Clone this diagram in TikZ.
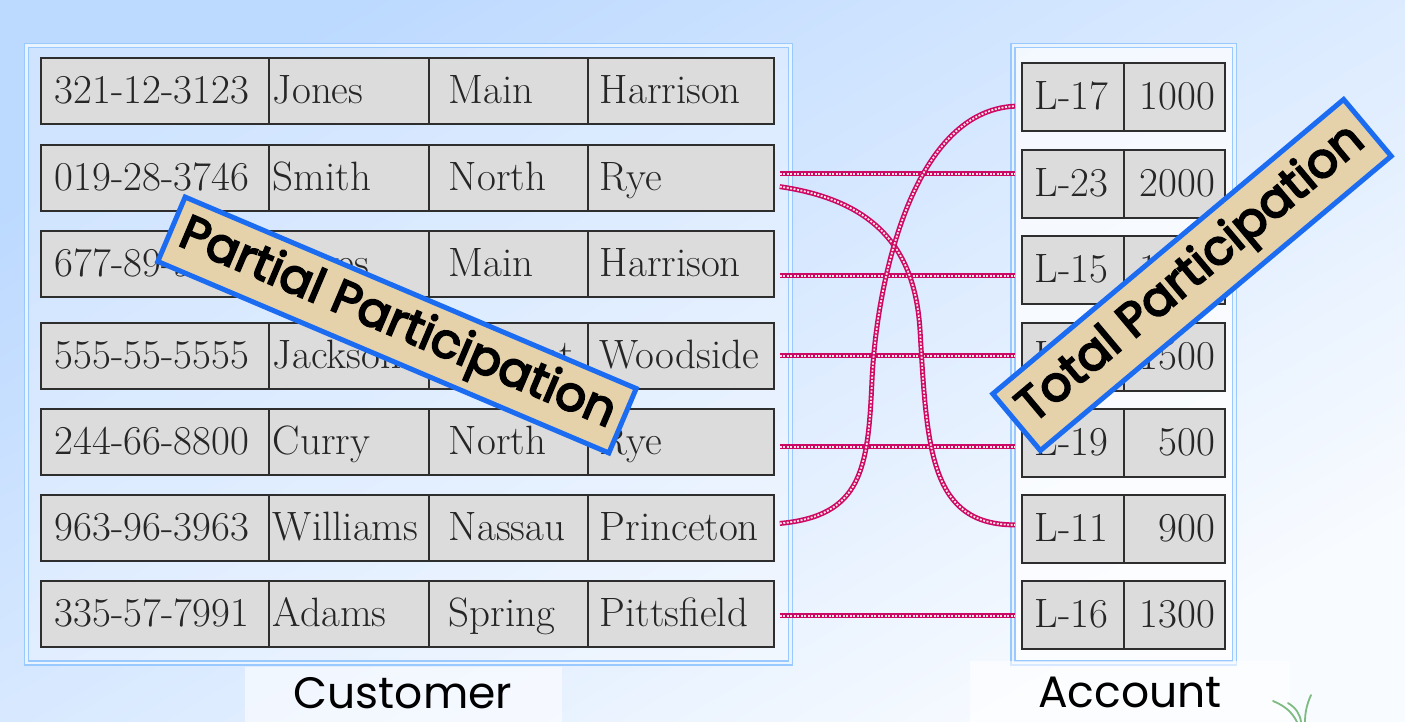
\documentclass[tikz,border=0pt]{standalone}
\usepackage{fontspec}
\usetikzlibrary{positioning}
\newfontfamily\comicfont{Poppins}
\newfontfamily\comicbold{Poppins}[FakeBold=4]
\newcommand\tabfont{\fontsize{41}{46}\selectfont}
\definecolor{bg-top}{HTML}{BCD9FF}
\definecolor{bg-bot}{HTML}{F8FBFF}
\definecolor{frame-blue}{HTML}{99C9FF}
\definecolor{frame-gap}{HTML}{EAF4FF}
\definecolor{cell-gray}{HTML}{DCDCDC}
\definecolor{cell-edge}{HTML}{2E2E2E}
\definecolor{link-red}{HTML}{CC0A66}
\definecolor{tag-tan}{HTML}{E6D2AA}
\definecolor{tag-blue}{HTML}{1C6CF2}
\definecolor{grass-green}{HTML}{7DBB80}

\begin{document}
\begin{tikzpicture}[x=1pt,y=-1pt,
  cell/.style={draw=cell-edge,fill=cell-gray,line width=1.8pt,anchor=north west,inner ysep=0pt,
    text height=30pt,text depth=4pt,font=\tabfont,text=black!85},
  frame/.style={draw=frame-blue,line width=1.5pt,double=frame-gap,double distance=2.5pt},
  link/.style={draw=link-red,line width=5pt,shorten <=5pt,shorten >=6pt,
    postaction={draw=pink!45,line width=1.8pt,dash pattern=on 2pt off 1.5pt,shorten <=5pt,shorten >=6pt}},
  banner/.style={draw=tag-blue,fill=tag-tan,line width=5pt,inner sep=0pt,
    font=\comicbold\fontsize{48}{52}\selectfont},
  caption/.style={font=\comicfont\fontsize{44}{48}\selectfont,inner sep=0pt},
  patch/.style={fill=white,fill opacity=0.6},
  grass/.style={draw=grass-green,line width=1.8pt,line cap=round}]
  \useasboundingbox (0,0) rectangle (1405,722);
  \shade[top color=bg-top,bottom color=bg-bot,shading angle=30] (0,0) rectangle (1405,722);

  % entity frames
  \draw[frame,fill=white,fill opacity=0.3] (26.5,45.5) rectangle (790.5,663);
  \draw[frame,fill=white,fill opacity=0.75] (1013,45.5) rectangle (1234.5,663);

  % customer rows
  \foreach \i/\top/\ssn/\name/\street/\city in {1/57/321-12-3123/Jones/Main/Harrison,
      2/144/019-28-3746/Smith/North/Rye, 3/230/677-89-9011/Hayes/Main/Harrison,
      4/322/555-55-5555/Jackson/Dupont/Woodside, 5/408/244-66-8800/Curry/North/Rye,
      6/494/963-96-3963/Williams/Nassau/Princeton, 7/580/335-57-7991/Adams/Spring/Pittsfield}{
    \node[cell,minimum height=66pt,inner xsep=14pt,text width=200pt,align=left] (ssn\i) at (40,\top) {\ssn};
    \node[cell,minimum height=66pt,inner xsep=4pt,text width=152pt,align=left] (name\i) at (268,\top) {\name};
    \node[cell,minimum height=66pt,inner xsep=20pt,text width=119pt,align=left] (street\i) at (428,\top) {\street};
    \node[cell,minimum height=66pt,inner xsep=12pt,text width=162pt,align=left] (city\i) at (587,\top) {\city};
  }

  % account rows
  \foreach \i/\top/\loan/\amt in {1/62/L-17/1000, 2/149/L-23/2000, 3/235/L-15/1500,
      4/322/L-14/1500, 5/408/L-19/500, 6/494/L-11/900, 7/580/L-16/1300}{
    \node[cell,minimum height=68pt,inner xsep=13pt,text width=76pt,align=left] (loan\i) at (1021,\top) {\loan};
    \node[cell,minimum height=68pt,inner xsep=10pt,text width=81pt,align=right] (amt\i) at (1123,\top) {\amt};
  }

  % relationship links
  \foreach \r/\dy in {2/4,3/-12,4/0,5/-5,7/-2}
    \draw[link] ([yshift=\dy pt]city\r.east) coordinate (s\r) -- (s\r -| loan\r.west);
  \draw[link] ([yshift=-8pt]city2.east) .. controls +(102,15) and +(-5,-80) .. (920,330)
    .. controls +(7,120) and +(-91,0) .. ([yshift=4pt]loan6.west);
  \draw[link] ([yshift=4pt]city6.east) .. controls +(87,-8) and +(-4,90) .. (872,380)
    .. controls +(4,-90) and +(-111,5) .. ([yshift=-9pt]loan1.west);

  % tags
  \node[banner,minimum width=490pt,minimum height=70pt,rotate=-23] (partial) at (397,325) {Partial Participation};
  \node[banner,minimum width=458pt,minimum height=74pt,rotate=40] (total) at (1192,275) {Total Participation};

  % entity names
  \fill[patch] (245,667) rectangle (562,722);
  \fill[patch] (970,661) rectangle (1290,722);
  \node[caption] (custname) at (403,693) {Customer};
  \node[caption] (accname) at (1130,692) {Account};

  % grass
  \draw[grass] (1297,722) .. controls (1292,712) and (1285,706) .. (1273,701);
  \draw[grass] (1305,722) .. controls (1305,712) and (1307,704) .. (1311,695);
  \draw[grass] (1301,722) .. controls (1300,714) and (1296,708) .. (1288,703);
\end{tikzpicture}
\end{document}
